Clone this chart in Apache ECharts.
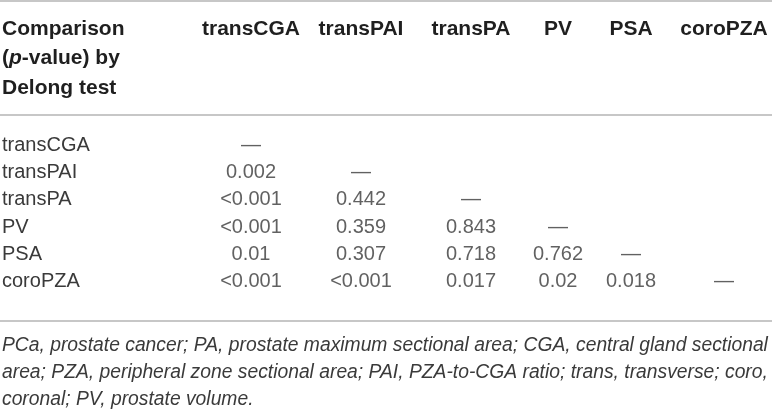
<!DOCTYPE html>
<html>
<head>
<meta charset="utf-8">
<script src="https://cdn.jsdelivr.net/npm/echarts@6/dist/echarts.min.js"></script>
<style>
html,body{margin:0;padding:0;background:#fff;}
#c{width:772px;height:410px;}
</style>
</head>
<body>
<div id="c"></div>
<script>
// ---- data ----
var columnNames = ['transCGA', 'transPAI', 'transPA', 'PV', 'PSA', 'coroPZA'];
var rowNames = ['transCGA', 'transPAI', 'transPA', 'PV', 'PSA', 'coroPZA'];
// p-values per column, listed by row (null = empty cell)
var colTransCGA = ['—', '0.002', '<0.001', '<0.001', '0.01', '<0.001'];
var colTransPAI = [null, '—', '0.442', '0.359', '0.307', '<0.001'];
var colTransPA  = [null, null, '—', '0.843', '0.718', '0.017'];
var colPV       = [null, null, null, '—', '0.762', '0.02'];
var colPSA      = [null, null, null, null, '—', '0.018'];
var colCoroPZA  = [null, null, null, null, null, '—'];
var headerLines = ['Comparison', '(p-value) by', 'Delong test'];
var footnoteLines = [
  'PCa, prostate cancer; PA, prostate maximum sectional area; CGA, central gland sectional',
  'area; PZA, peripheral zone sectional area; PAI, PZA-to-CGA ratio; trans, transverse; coro,',
  'coronal; PV, prostate volume.'
];

// ---- layout (table column centres, px) ----
var colCenters = [251, 361, 471, 558, 631, 724];
var COL_W = 80;
var GRID_TOP = 132, GRID_H = 163;

var FONT = '"Liberation Sans", Arial, Helvetica, sans-serif';
var BODY = '#3a3a3a';
var HEAD = '#1f1f1f';
var RULE = '#b4b4b4';

var columns = [colTransCGA, colTransPAI, colTransPA, colPV, colPSA, colCoroPZA];

var grids = [], xAxes = [], yAxes = [], series = [];
columns.forEach(function (col, ci) {
  var left = colCenters[ci] - COL_W / 2;
  grids.push({left: left, width: COL_W, top: GRID_TOP, height: GRID_H, containLabel: false, outerBoundsMode: 'none'});
  xAxes.push({
    gridIndex: ci,
    type: 'category',
    position: 'top',
    data: [columnNames[ci]],
    boundaryGap: true,
    axisLine: {show: false},
    axisTick: {show: false},
    splitLine: {show: false},
    axisLabel: {
      interval: 0,
      margin: 103,
      verticalAlign: 'middle',
      fontFamily: FONT,
      fontSize: 21,
      fontWeight: 'bold',
      color: HEAD
    }
  });
  yAxes.push({
    gridIndex: ci,
    type: 'category',
    inverse: true,
    data: rowNames,
    boundaryGap: true,
    axisLine: {show: false},
    axisTick: {show: false},
    splitLine: {show: false},
    axisLabel: {
      show: ci === 0,
      interval: 0,
      margin: left - 2,
      align: 'left',
      fontFamily: FONT,
      fontSize: 20,
      color: BODY
    }
  });
  var data = [];
  col.forEach(function (v, ri) {
    if (v !== null) data.push([0, ri, v]);
  });
  series.push({
    type: 'scatter',
    xAxisIndex: ci,
    yAxisIndex: ci,
    data: data,
    symbolSize: 0,
    silent: true,
    label: {
      show: true,
      position: 'inside',
      formatter: function (p) { return p.value[2]; },
      fontFamily: FONT,
      fontSize: 20,
      color: BODY
    }
  });
});

function rule(y) {
  return {
    type: 'line',
    shape: {x1: 0, y1: y, x2: 772, y2: y},
    style: {stroke: RULE, lineWidth: 1.6},
    silent: true
  };
}

var headerRich = headerLines.map(function (l) {
  if (l.indexOf('(p-') === 0) return '{b|(}{bi|p}{b|' + l.slice(2) + '}';
  return '{b|' + l + '}';
}).join('\n');

var chart = echarts.init(document.getElementById('c'), null, {renderer: 'canvas'});
chart.setOption({
  animation: false,
  backgroundColor: '#fff',
  grid: grids,
  xAxis: xAxes,
  yAxis: yAxes,
  series: series,
  graphic: [
    rule(1),
    rule(115),
    rule(321),
    {
      type: 'text',
      left: 2,
      top: 14,
      silent: true,
      style: {
        text: headerRich,
        fontFamily: FONT,
        lineHeight: 29.5,
        rich: {
          b: {fontFamily: FONT, fontSize: 21, fontWeight: 'bold', fill: HEAD, lineHeight: 29.5},
          bi: {fontFamily: FONT, fontSize: 21, fontWeight: 'bold', fontStyle: 'italic', fill: HEAD, lineHeight: 29.5}
        }
      }
    },
    {
      type: 'text',
      left: 2,
      top: 332,
      silent: true,
      style: {
        text: footnoteLines.join('\n'),
        fontFamily: FONT,
        fontSize: 19.3,
        fontStyle: 'italic',
        lineHeight: 27,
        fill: BODY
      }
    }
  ]
});
</script>
</body>
</html>
